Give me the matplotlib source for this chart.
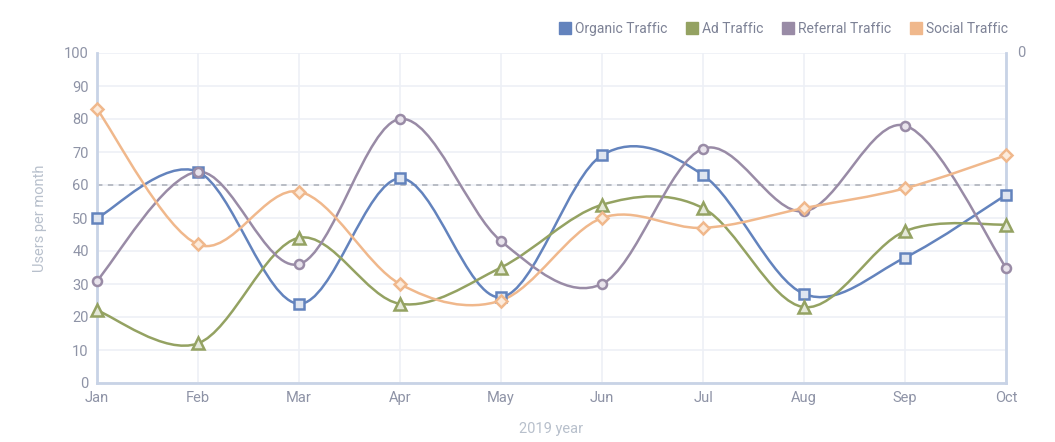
import matplotlib
matplotlib.use('Agg')
import matplotlib.pyplot as plt
from matplotlib.path import Path
from matplotlib.patches import PathPatch

plt.rcParams['font.family'] = ['Roboto', 'DejaVu Sans']

months = ['Jan', 'Feb', 'Mar', 'Apr', 'May', 'Jun', 'Jul', 'Aug', 'Sep', 'Oct']

organic = [50, 64, 24, 62, 26, 69, 63, 27, 38, 57]
ad = [22, 12, 44, 24, 35, 54, 53, 23, 46, 48]
referral = [31, 64, 36, 80, 43, 30, 71, 52, 78, 35]
social = [83, 42, 58, 30, 25, 50, 47, 53, 59, 69]

names = ['Organic Traffic', 'Ad Traffic', 'Referral Traffic', 'Social Traffic']
colors = ['#6383bd', '#94a262', '#998ba6', '#f0b88c']
faces = ['#dfe5f0', '#e4e8d8', '#e8e3ec', '#fcebdc']
markers = ['s', '^', 'o', 'D']
msizes = [7, 8.5, 6.5, 6.3]


def smooth_path(xs, ys):
    # catmull-rom through the points, drawn as cubic bezier segments
    verts = [(xs[0], ys[0])]
    codes = [Path.MOVETO]
    n = len(xs)
    for i in range(n - 1):
        x0, y0 = (xs[i - 1], ys[i - 1]) if i > 0 else (xs[i], ys[i])
        x1, y1 = xs[i], ys[i]
        x2, y2 = xs[i + 1], ys[i + 1]
        x3, y3 = (xs[i + 2], ys[i + 2]) if i + 2 < n else (x2, y2)
        c1 = (x1 + (x2 - x0) / 6, y1 + (y2 - y0) / 6)
        c2 = (x2 - (x3 - x1) / 6, y2 - (y3 - y1) / 6)
        verts += [c1, c2, (x2, y2)]
        codes += [Path.CURVE4] * 3
    return Path(verts, codes)


fig = plt.figure(figsize=(10.55, 4.42), dpi=100)
ax = fig.add_axes([97 / 1055, 59 / 442, 909 / 1055, 330 / 442])

x = list(range(len(months)))
for ys, name, c, fc, m, ms in zip([organic, ad, referral, social], names,
                                  colors, faces, markers, msizes):
    ax.add_patch(PathPatch(smooth_path(x, ys), fill=False, edgecolor=c,
                           lw=1.8, zorder=3))
    ax.plot(x, ys, ls='none', marker=m, ms=ms, mfc=fc, mec=c, mew=1.8,
            zorder=4, clip_on=False)
    ax.plot([], [], ls='none', marker='s', ms=8.5, color=c, label=name)

ax.axhline(60, color='#b4b8c0', ls=(0, (3, 3)), lw=1.3, zorder=2)

ax.set_xlim(0, len(months) - 1)
ax.set_ylim(0, 100)
ax.set_xticks(x)
ax.set_xticklabels(months)
ax.set_yticks(range(0, 101, 10))
ax.grid(color='#edf0f6', lw=1.2, zorder=0)
ax.set_axisbelow(True)
ax.spines['top'].set_visible(False)
for side in ['left', 'right', 'bottom']:
    ax.spines[side].set_color('#c8d3e6')
    ax.spines[side].set_linewidth(2)
ax.tick_params(length=0, labelsize=10.5, colors='#8e93a6', pad=6)
ax.text(1.012, 1.0, '0', transform=ax.transAxes, fontsize=10.5,
        color='#8e93a6', va='center', ha='left')

ax.set_ylabel('Users per month', color='#b8c0cc', fontsize=10.5, labelpad=12)
ax.set_xlabel('2019 year', color='#b8c0cc', fontsize=10.5, labelpad=12)

ax.legend(loc='lower right', bbox_to_anchor=(1.008, 1.035), ncol=4, frameon=False,
          fontsize=10, labelcolor='#7d8296', handletextpad=0.35,
          columnspacing=1.45, borderaxespad=0, handlelength=0.7)

fig.savefig('out.png', dpi=100)
